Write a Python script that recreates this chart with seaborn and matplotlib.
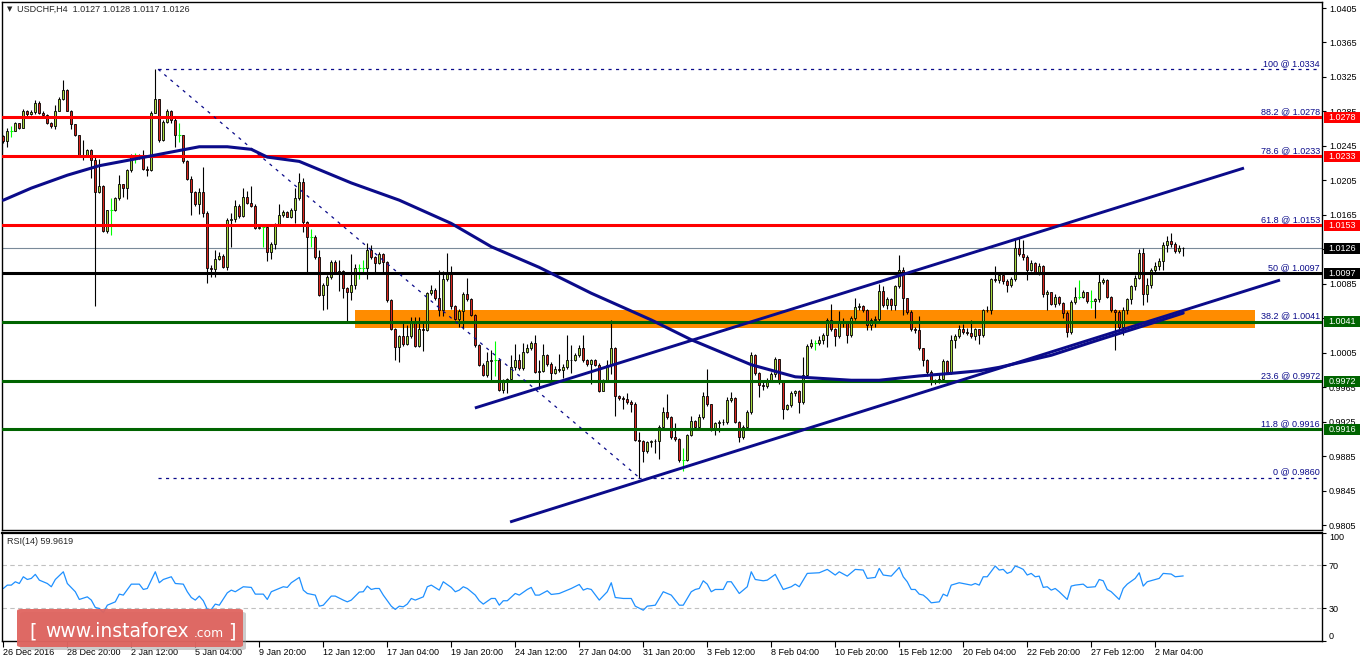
import numpy as np
import matplotlib
matplotlib.use("Agg")
import matplotlib.pyplot as plt
import matplotlib.transforms as mtrans
from matplotlib.patches import Rectangle, FancyBboxPatch
import seaborn as sns

# ---------------- data ----------------
title = "USDCHF,H4  1.0127 1.0128 1.0117 1.0126"
rsi_title = "RSI(14) 59.9619"

first_open = 1.0256
closes = [
    1.0251, 1.0262, 1.0262, 1.0271, 1.0266, 1.0286, 1.0282, 1.0284, 1.0295, 1.0283,
    1.0281, 1.0271, 1.0268, 1.0286, 1.0299, 1.0310, 1.0286, 1.0270, 1.0258, 1.0235,
    1.0233, 1.0240, 1.0229, 1.0192, 1.0198, 1.0146, 1.0171, 1.0171, 1.0184, 1.0201,
    1.0196, 1.0217, 1.0235, 1.0235, 1.0233, 1.0218, 1.0217, 1.0283, 1.0300, 1.0252,
    1.0273, 1.0286, 1.0275, 1.0258, 1.0258, 1.0227, 1.0206, 1.0192, 1.0177, 1.0191,
    1.0167, 1.0103, 1.0102, 1.0114, 1.0117, 1.0105, 1.0159, 1.0160, 1.0175, 1.0164,
    1.0186, 1.0179, 1.0175, 1.0150, 1.0151, 1.0151, 1.0122, 1.0131, 1.0153, 1.0165,
    1.0168, 1.0163, 1.0171, 1.0184, 1.0203,
    1.0157, 1.0139, 1.0139, 1.0116, 1.0072, 1.0083, 1.0093, 1.0110, 1.0099, 1.0100,
    1.0080, 1.0075, 1.0083, 1.0103, 1.0103, 1.0103, 1.0124, 1.0116, 1.0109, 1.0119,
    1.0110, 1.0066, 1.0033, 1.0012, 1.0024, 1.0015, 1.0024, 1.0042, 1.0013, 1.0032,
    1.0031, 1.0074, 1.0078, 1.0068, 1.0054, 1.0090, 1.0096, 1.0059, 1.0044, 1.0053,
    1.0073, 1.0067, 1.0049, 1.0014, 0.9991, 0.9979, 0.9995, 0.9997, 0.9997, 0.9962,
    0.9973, 0.9974, 0.9988, 0.9996, 0.9987, 1.0006, 1.0010, 1.0016, 0.9982, 0.9984,
    1.0002, 0.9992, 0.9981, 0.9986, 0.9985, 0.9988, 0.9996, 0.9997, 1.0002, 1.0010,
    0.9996, 0.9992,
    0.9997, 0.9991, 0.9961, 0.9973, 0.9991, 1.0011, 0.9955, 0.9952, 0.9951, 0.9948,
    0.9946, 0.9904, 0.9903, 0.9891, 0.9901, 0.9902, 0.9903, 0.9919, 0.9936, 0.9930,
    0.9907, 0.9905, 0.9880, 0.9880, 0.9909, 0.9926, 0.9919, 0.9930, 0.9955, 0.9945,
    0.9916, 0.9923, 0.9924, 0.9925, 0.9950, 0.9952, 0.9925, 0.9907, 0.9919, 0.9936,
    1.0002, 0.9981, 0.9967, 0.9966, 0.9973, 0.9980, 0.9998, 0.9971, 0.9940, 0.9944,
    0.9958, 0.9960, 0.9948, 0.9979, 1.0013, 1.0016, 1.0016, 1.0020, 1.0026, 1.0043,
    1.0032, 1.0024, 1.0041, 1.0040, 1.0025, 1.0045, 1.0058, 1.0059, 1.0055, 1.0037,
    1.0043, 1.0044, 1.0077,
    1.0060, 1.0067, 1.0060, 1.0082, 1.0101, 1.0068, 1.0052, 1.0032, 1.0031, 1.0010,
    0.9996, 0.9983, 0.9972, 0.9971, 0.9975, 0.9995, 0.9982, 1.0020, 1.0024, 1.0033,
    1.0029, 1.0028, 1.0024, 1.0032, 1.0025, 1.0054, 1.0055, 1.0090, 1.0089, 1.0095,
    1.0088, 1.0083, 1.0090, 1.0126, 1.0120, 1.0116, 1.0101, 1.0109, 1.0099, 1.0106,
    1.0073, 1.0075, 1.0062, 1.0070, 1.0063, 1.0051, 1.0029, 1.0064, 1.0070, 1.0070,
    1.0075, 1.0065, 1.0065, 1.0067, 1.0087, 1.0089, 1.0070, 1.0054, 1.0052, 1.0035,
    1.0055, 1.0067, 1.0082, 1.0092, 1.0121, 1.0073, 1.0083, 1.0101, 1.0106, 1.0111,
    1.0130, 1.0135, 1.0131, 1.0123, 1.0127, 1.0126,
]
highs = [
    1.0258, 1.0266, 1.0268, 1.0273, 1.0272, 1.0288, 1.0287, 1.0287, 1.0298, 1.0297,
    1.0285, 1.0282, 1.0273, 1.0293, 1.0302, 1.0322, 1.0311, 1.0287, 1.0270, 1.0258,
    1.0252, 1.0241, 1.0241, 1.0232, 1.0230, 1.0200, 1.0171, 1.0184, 1.0186, 1.0211,
    1.0201, 1.0218, 1.0236, 1.0237, 1.0236, 1.0240, 1.0222, 1.0285, 1.0334, 1.0300,
    1.0275, 1.0288, 1.0287, 1.0277, 1.0271, 1.0258, 1.0229, 1.0210, 1.0193, 1.0196,
    1.0221, 1.0169, 1.0107, 1.0124, 1.0122, 1.0119, 1.0161, 1.0167, 1.0182, 1.0177,
    1.0196, 1.0193, 1.0198, 1.0177, 1.0152, 1.0152, 1.0152, 1.0134, 1.0155, 1.0177,
    1.0171, 1.0169, 1.0173, 1.0196, 1.0214,
    1.0208, 1.0158, 1.0149, 1.0141, 1.0124, 1.0086, 1.0095, 1.0112, 1.0113, 1.0112,
    1.0101, 1.0081, 1.0120, 1.0108, 1.0108, 1.0113, 1.0132, 1.0130, 1.0117, 1.0122,
    1.0121, 1.0111, 1.0067, 1.0034, 1.0026, 1.0041, 1.0037, 1.0046, 1.0046, 1.0046,
    1.0042, 1.0075, 1.0083, 1.0080, 1.0101, 1.0100, 1.0121, 1.0106, 1.0060, 1.0056,
    1.0076, 1.0092, 1.0069, 1.0050, 1.0015, 0.9993, 1.0006, 1.0008, 1.0018, 0.9998,
    0.9975, 0.9976, 1.0002, 1.0015, 1.0003, 1.0016, 1.0015, 1.0018, 1.0025, 0.9996,
    1.0015, 1.0004, 0.9994, 0.9990, 1.0003, 0.9992, 1.0025, 1.0014, 1.0005, 1.0014,
    1.0026, 0.9998,
    0.9998, 0.9998, 0.9993, 0.9975, 0.9996, 1.0043, 1.0012, 0.9956, 0.9955, 0.9958,
    0.9950, 0.9948, 0.9913, 0.9904, 0.9903, 0.9904, 0.9905, 0.9921, 0.9942, 0.9957,
    0.9931, 0.9923, 0.9906, 0.9894, 0.9911, 0.9931, 0.9927, 0.9934, 0.9959, 0.9986,
    0.9946, 0.9925, 0.9927, 0.9928, 0.9953, 0.9959, 0.9953, 0.9926, 0.9921, 0.9938,
    1.0006, 1.0003, 0.9982, 0.9972, 0.9976, 0.9983, 1.0000, 0.9998, 0.9973, 0.9946,
    0.9961, 0.9962, 0.9962, 1.0000, 1.0015, 1.0021, 1.0020, 1.0024, 1.0028, 1.0045,
    1.0061, 1.0034, 1.0053, 1.0045, 1.0042, 1.0048, 1.0068, 1.0063, 1.0060, 1.0056,
    1.0045, 1.0047, 1.0085,
    1.0082, 1.0070, 1.0068, 1.0084, 1.0118, 1.0104, 1.0069, 1.0055, 1.0035, 1.0047,
    1.0011, 0.9998, 0.9985, 0.9975, 0.9980, 0.9998, 0.9997, 1.0026, 1.0027, 1.0037,
    1.0038, 1.0034, 1.0043, 1.0034, 1.0033, 1.0056, 1.0059, 1.0092, 1.0106, 1.0097,
    1.0095, 1.0090, 1.0093, 1.0138, 1.0138, 1.0136, 1.0118, 1.0112, 1.0110, 1.0109,
    1.0107, 1.0078, 1.0076, 1.0073, 1.0071, 1.0064, 1.0053, 1.0066, 1.0081, 1.0089,
    1.0078, 1.0076, 1.0078, 1.0069, 1.0098, 1.0092, 1.0090, 1.0071, 1.0056, 1.0055,
    1.0058, 1.0069, 1.0084, 1.0095, 1.0125, 1.0127, 1.0092, 1.0103, 1.0110, 1.0115,
    1.0133, 1.0140, 1.0144, 1.0133, 1.0130, 1.0128,
]
lows = [
    1.0248, 1.0244, 1.0255, 1.0262, 1.0265, 1.0266, 1.0280, 1.0281, 1.0282, 1.0282,
    1.0278, 1.0270, 1.0266, 1.0265, 1.0285, 1.0298, 1.0285, 1.0265, 1.0256, 1.0233,
    1.0229, 1.0233, 1.0208, 1.0059, 1.0190, 1.0145, 1.0144, 1.0142, 1.0170, 1.0182,
    1.0186, 1.0183, 1.0215, 1.0225, 1.0230, 1.0217, 1.0210, 1.0216, 1.0283, 1.0250,
    1.0251, 1.0271, 1.0272, 1.0244, 1.0250, 1.0225, 1.0205, 1.0165, 1.0175, 1.0166,
    1.0163, 1.0086, 1.0093, 1.0093, 1.0112, 1.0103, 1.0101, 1.0128, 1.0157, 1.0161,
    1.0163, 1.0177, 1.0174, 1.0148, 1.0148, 1.0128, 1.0111, 1.0114, 1.0125, 1.0152,
    1.0163, 1.0162, 1.0161, 1.0155, 1.0182,
    1.0145, 1.0099, 1.0128, 1.0114, 1.0071, 1.0054, 1.0056, 1.0090, 1.0097, 1.0077,
    1.0068, 1.0042, 1.0066, 1.0079, 1.0090, 1.0098, 1.0090, 1.0114, 1.0099, 1.0108,
    1.0099, 1.0064, 1.0031, 0.9996, 0.9994, 1.0013, 1.0014, 1.0022, 1.0012, 1.0012,
    1.0007, 1.0030, 1.0072, 1.0066, 1.0048, 1.0047, 1.0088, 1.0056, 1.0043, 1.0035,
    1.0033, 1.0065, 1.0047, 1.0012, 0.9989, 0.9978, 0.9977, 0.9973, 0.9978, 0.9961,
    0.9958, 0.9958, 0.9971, 0.9985, 0.9985, 0.9985, 1.0005, 1.0008, 0.9981, 0.9963,
    0.9982, 0.9990, 0.9973, 0.9980, 0.9983, 0.9976, 0.9986, 0.9981, 0.9995, 1.0000,
    0.9994, 0.9990,
    0.9969, 0.9989, 0.9959, 0.9960, 0.9972, 0.9980, 0.9932, 0.9950, 0.9940, 0.9946,
    0.9936, 0.9903, 0.9859, 0.9878, 0.9888, 0.9895, 0.9888, 0.9882, 0.9917, 0.9928,
    0.9905, 0.9903, 0.9878, 0.9868, 0.9879, 0.9908, 0.9917, 0.9918, 0.9928, 0.9943,
    0.9914, 0.9910, 0.9913, 0.9921, 0.9922, 0.9948, 0.9923, 0.9901, 0.9905, 0.9917,
    0.9934, 0.9979, 0.9954, 0.9962, 0.9964, 0.9971, 0.9977, 0.9969, 0.9928, 0.9938,
    0.9942, 0.9955, 0.9935, 0.9946, 0.9977, 1.0010, 1.0008, 1.0014, 1.0015, 1.0012,
    1.0030, 1.0013, 1.0022, 1.0035, 1.0016, 1.0023, 1.0043, 1.0054, 1.0052, 1.0031,
    1.0031, 1.0035, 1.0041,
    1.0058, 1.0056, 1.0055, 1.0055, 1.0080, 1.0049, 1.0050, 1.0030, 1.0028, 1.0008,
    0.9989, 0.9978, 0.9968, 0.9969, 0.9970, 0.9972, 0.9980, 0.9980, 1.0011, 1.0022,
    1.0027, 1.0026, 1.0022, 1.0020, 1.0015, 1.0023, 1.0052, 1.0050, 1.0087, 1.0086,
    1.0085, 1.0076, 1.0081, 1.0088, 1.0117, 1.0113, 1.0089, 1.0100, 1.0097, 1.0095,
    1.0070, 1.0055, 1.0060, 1.0058, 1.0060, 1.0045, 1.0023, 1.0027, 1.0062, 1.0067,
    1.0068, 1.0063, 1.0057, 1.0045, 1.0064, 1.0085, 1.0068, 1.0052, 1.0008, 1.0030,
    1.0025, 1.0050, 1.0062, 1.0078, 1.0090, 1.0060, 1.0064, 1.0080, 1.0098, 1.0101,
    1.0101, 1.0122, 1.0128, 1.0121, 1.0121, 1.0117,
]

# moving average, read at points along the curve (bar index, price)
ma_bars = [0, 7, 16, 24, 32, 41, 49, 56, 62, 66, 74, 87, 99, 112, 122, 134, 147, 162,
           172, 187, 198, 212, 219, 229, 237, 244, 249, 262, 274, 287, 295]
ma_vals = [1.0182, 1.0196, 1.0211, 1.0222, 1.0229, 1.0237, 1.0244, 1.0244, 1.0241,
           1.0232, 1.0227, 1.0202, 1.0182, 1.0155, 1.0128, 1.0104, 1.0074, 1.0043,
           1.0020, 0.9991, 0.9977, 0.9973, 0.9973, 0.9978, 0.9981, 0.9984, 0.9988,
           1.0002, 1.0020, 1.0039, 1.0051]

# RSI(14), read at its turning points (bar index, value)
rsi_bars = [0, 1, 2, 3, 4, 5, 6, 7, 8, 9, 11, 12, 13, 15, 16, 18, 19, 21, 22, 23, 24, 25,
            26, 28, 29, 30, 32, 34, 35, 36, 38, 39, 40, 42, 43, 45, 46, 47, 48, 49, 50, 51,
            52, 53, 54, 56, 57, 58, 60, 62, 63, 65, 66, 67, 70, 71, 72, 74, 75, 76, 78, 79,
            80, 82, 83, 85, 86, 87, 88, 89, 90, 91, 92, 93, 94, 95, 97, 98, 99, 100, 101,
            102, 103, 104, 105, 106, 107, 109, 110, 112,
            113, 114, 115, 116, 118, 119, 120, 122, 123, 124, 125, 126, 128, 129, 131, 132,
            133, 134, 136, 137, 139, 141, 142, 144, 145, 146, 147, 149, 151, 152, 153, 155,
            157, 158, 160, 161, 163, 165, 167, 168, 169, 170, 172, 173, 174, 175, 176, 177,
            178, 180, 181, 182, 184, 186, 187, 188, 190, 191, 193, 195, 197, 198, 199, 201,
            204, 206, 208, 209, 211, 213, 215, 216, 218, 219, 220, 222, 224,
            225, 226, 227, 228, 229, 230, 231, 232, 234, 235, 236, 237, 239, 242, 243, 244,
            245, 246, 248, 249, 250, 251, 252, 253, 254, 255, 256, 257, 258, 259, 260, 261,
            262, 263, 264, 266, 267, 268, 270, 271, 273, 274, 275, 276, 277, 279, 280, 281,
            283, 284, 285, 286, 288, 289, 290, 292, 293, 295]
rsi_vals = [48.4, 51.5, 51.5, 54.6, 53.0, 59.2, 56.7, 57.7, 61.4, 56.1, 53.0, 50.0, 56.7,
            63.8, 53.0, 45.4, 38.3, 40.7, 37.7, 30.9, 30.0, 26.0, 33.0, 36.1, 43.2, 42.3,
            52.4, 52.4, 47.5, 48.4, 63.8, 53.7, 56.7, 59.2, 53.0, 52.4, 45.4, 40.1, 37.7,
            41.4, 37.1, 29.1, 29.1, 34.0, 33.0, 44.4, 46.9, 45.4, 50.0, 49.4, 43.2, 43.2,
            38.3, 45.4, 50.0, 49.4, 53.7, 58.6, 46.9, 43.8, 42.3, 32.1, 33.0, 41.4, 41.4,
            37.7, 36.1, 37.7, 41.4, 45.1, 45.4, 50.6, 47.5, 48.4, 48.4, 42.3, 32.1, 29.1,
            32.1, 31.5, 34.0, 39.2, 37.7, 39.2, 40.7, 50.0, 51.5, 46.9, 54.6, 49.4,
            45.4, 46.9, 50.0, 48.4, 42.3, 37.1, 34.0, 39.2, 39.2, 33.0, 37.1, 37.1, 43.8,
            42.3, 47.5, 49.4, 42.3, 42.3, 46.3, 42.9, 43.8, 46.9, 48.4, 52.1, 46.9, 48.4,
            47.5, 37.7, 45.4, 53.7, 40.1, 39.2, 39.2, 32.1, 28.4, 32.1, 33.0, 45.4, 42.3,
            37.7, 33.0, 33.0, 45.4, 47.5, 48.4, 55.5, 52.4, 45.4, 47.5, 47.5, 54.6, 54.6,
            43.8, 50.0, 63.8, 56.7, 55.5, 56.1, 61.4, 47.5, 50.0, 52.4, 50.0, 62.3, 62.9,
            66.0, 60.8, 63.8, 59.8, 66.0, 65.4, 57.7, 58.6, 66.9, 60.8, 59.8, 67.8,
            59.2, 54.6, 47.5, 47.5, 43.2, 42.3, 39.2, 35.2, 36.1, 43.2, 41.4, 51.5, 53.7,
            51.5, 53.0, 51.5, 59.2, 59.2, 69.1, 65.4, 66.0, 62.3, 63.8, 69.1, 67.8, 66.0,
            60.8, 62.3, 59.2, 59.8, 49.4, 50.0, 46.9, 48.4, 45.4, 38.3, 50.6, 51.5, 52.4,
            49.4, 50.0, 56.7, 55.5, 47.5, 45.4, 38.3, 48.4, 52.4, 57.7, 62.9, 50.6, 54.6,
            56.7, 57.7, 62.3, 61.7, 59.2, 59.96]

# Fibonacci retracement from the 1.0334 high to the 0.9860 low
fib_labels = ["100", "88.2", "78.6", "61.8", "50", "38.2", "23.6", "11.8", "0"]
fib_prices = [1.0334, 1.0278, 1.0233, 1.0153, 1.0097, 1.0041, 0.9972, 0.9916, 0.9860]
fib_high_bar, fib_low_bar = 38.7, 159

# drawn levels (solid lines with price boxes)
level_prices = [1.0278, 1.0233, 1.0153, 1.0097, 1.0041, 0.9972, 0.9916]
last_price = 1.0126

# channel trend lines (bar index, price)
upper_bars, upper_vals = [117.9, 310.2], [0.99408, 1.02193]
lower_bars, lower_vals = [126.7, 319.2], [0.98085, 1.00893]

# orange zone
zone_bars = [87.9, 312.9]
zone_prices = [1.0034, 1.00545]

price_ticks = [1.0405, 1.0365, 1.0325, 1.0285, 1.0245, 1.0205, 1.0165, 1.0125,
               1.0085, 1.0045, 1.0005, 0.9965, 0.9925, 0.9885, 0.9845, 0.9805]
rsi_ticks = [100, 70, 30, 0]
time_ticks = [0, 16, 32, 48, 64, 80, 96, 112, 128, 144, 160, 176, 192, 208, 224, 240,
              256, 272, 288]
time_labels = ["26 Dec 2016", "28 Dec 20:00", "2 Jan 12:00", "5 Jan 04:00", "9 Jan 20:00",
               "12 Jan 12:00", "17 Jan 04:00", "19 Jan 20:00", "24 Jan 12:00",
               "27 Jan 04:00", "31 Jan 20:00", "3 Feb 12:00", "8 Feb 04:00",
               "10 Feb 20:00", "15 Feb 12:00", "20 Feb 04:00", "22 Feb 20:00",
               "27 Feb 12:00", "2 Mar 04:00"]

assert len(closes) == len(highs) == len(lows)
assert len(rsi_bars) == len(rsi_vals) and len(ma_bars) == len(ma_vals)

# ---------------- styling ----------------
sns.set_style("white")
plt.rcParams["font.family"] = ["Liberation Sans", "DejaVu Sans"]
plt.rcParams["font.size"] = 6.5

navy = "#0b0b8a"
bull, bear = "#a6d83e", "#d8251c"
level_colors = ["#ff0000", "#ff0000", "#ff0000", "#000000", "#006400", "#006400", "#006400"]

fig = plt.figure(figsize=(13.62, 6.61), dpi=100)
ax = fig.add_axes([2 / 1362, 131 / 661, 1320 / 1362, 528 / 661])
ax2 = fig.add_axes([2 / 1362, 20 / 661, 1320 / 1362, 108.5 / 661])

# ---------------- candles ----------------
n = len(closes)
x = np.arange(n)
c = np.array(closes)
o = np.concatenate([[first_open], c[:-1]])
h = np.maximum(np.array(highs), np.maximum(o, c))
l = np.minimum(np.array(lows), np.minimum(o, c))
doji = np.isclose(o, c, atol=1e-7)
up = (c > o) & ~doji
dn = (c < o) & ~doji

ax.vlines(x[~doji], l[~doji], h[~doji], color="black", lw=0.8, zorder=3)
ax.vlines(x[doji], l[doji], h[doji], color="#00ff00", lw=0.8, zorder=3)
ax.hlines(c[doji], x[doji] - 0.4, x[doji] + 0.4, color="#00ff00", lw=0.8, zorder=3)
body = np.maximum(np.abs(c - o), 0.00004)
ax.bar(x[up], body[up], bottom=o[up], width=0.55, color=bull, edgecolor="black",
       linewidth=0.6, zorder=4)
ax.bar(x[dn], body[dn], bottom=c[dn], width=0.55, color=bear, edgecolor="black",
       linewidth=0.6, zorder=4)

# ---------------- objects ----------------
ax.add_patch(Rectangle((zone_bars[0], zone_prices[0]), zone_bars[1] - zone_bars[0],
                       zone_prices[1] - zone_prices[0], color="#ff8c00", lw=0, zorder=1))
ax.axhline(last_price, color="#7a8a99", lw=0.8, zorder=2)

for p, col in zip(level_prices, level_colors):
    ax.axhline(p, color=col, lw=2.2, zorder=5)

ax.hlines([fib_prices[0], fib_prices[-1]], fib_high_bar, 328.7, colors=navy,
          linestyles=(0, (2.5, 3.5)), lw=0.9, zorder=5)
ax.plot([fib_high_bar, fib_low_bar], [fib_prices[0], fib_prices[-1]], color=navy,
        ls=(0, (2.5, 4)), lw=0.9, zorder=5)

blend = mtrans.blended_transform_factory(ax.transAxes, ax.transData)
for lab, p in zip(fib_labels, fib_prices):
    ax.text(0.9985, p + 0.00012, f"{lab} @ {p:.4f}", transform=blend, ha="right",
            va="bottom", color=navy, fontsize=6.5, zorder=7)

ax.plot(upper_bars, upper_vals, color=navy, lw=2.1, zorder=6, solid_capstyle="butt")
ax.plot(lower_bars, lower_vals, color=navy, lw=2.1, zorder=6, solid_capstyle="butt")
sns.lineplot(x=ma_bars, y=ma_vals, ax=ax, color=navy, lw=2.2, zorder=6,
             estimator=None, sort=False)

# ---------------- main axis ----------------
ax.set_xlim(-0.33, 329.7)
ax.set_ylim(0.97992, 1.04120)
ax.set_xticks([])
ax.set_xlabel("")
ax.set_ylabel("")
ax.yaxis.tick_right()
ax.set_yticks(price_ticks)
ax.set_yticklabels([f"{p:.4f}" for p in price_ticks])
ax.tick_params(axis="y", right=True, length=3, width=0.8, pad=2, labelsize=6.5,
               colors="black")
for s in ax.spines.values():
    s.set_color("black")
    s.set_linewidth(1.0)

box_cols = level_colors[:3] + ["#000000"] + level_colors[3:]
box_prices = level_prices[:3] + [last_price] + level_prices[3:]
for p, col in zip(box_prices, box_cols):
    ax.add_patch(Rectangle((1.0015, p - 0.00064), 0.0273, 0.00128, transform=blend,
                           color=col, lw=0, clip_on=False, zorder=9))
    ax.text(1.0152, p, f"{p:.4f}", transform=blend, ha="center", va="center",
            color="white", fontsize=6.5, zorder=10, clip_on=False)

ax.text(0.0035, 0.993, "\u25bc", transform=ax.transAxes, ha="left", va="top",
        fontsize=5, family=["DejaVu Sans"])
ax.text(0.0115, 0.994, title, transform=ax.transAxes, ha="left", va="top", fontsize=6.5)

# ---------------- RSI ----------------
ax2.axhline(70, color="#c0c0c0", ls=(0, (4, 3)), lw=0.8)
ax2.axhline(30, color="#c0c0c0", ls=(0, (4, 3)), lw=0.8)
sns.lineplot(x=rsi_bars, y=rsi_vals, ax=ax2, color="#1e90ff", lw=0.9,
             estimator=None, sort=False)
ax2.set_xlim(-0.33, 329.7)
ax2.set_ylim(0, 100)
ax2.set_xlabel("")
ax2.set_ylabel("")
ax2.yaxis.tick_right()
ax2.set_yticks(rsi_ticks)
ax2.set_yticklabels([str(t) for t in rsi_ticks])
for lab, t in zip(ax2.get_yticklabels(), rsi_ticks):
    if t == 100:
        lab.set_va("top")
    elif t == 0:
        lab.set_va("bottom")
ax2.set_xticks(time_ticks)
ax2.set_xticklabels(time_labels, ha="left")
ax2.tick_params(axis="x", bottom=True, length=4, width=0.8, pad=1, labelsize=6.5,
                colors="black")
ax2.tick_params(axis="y", right=True, length=3, width=0.8, pad=2, labelsize=6.5,
                colors="black")
for s in ax2.spines.values():
    s.set_color("black")
    s.set_linewidth(1.0)
ax2.spines["top"].set_linewidth(1.6)
ax2.text(0.004, 0.96, rsi_title, transform=ax2.transAxes, ha="left", va="top",
         fontsize=6.5)

# ---------------- watermark ----------------
fig.patches.append(FancyBboxPatch((20 / 1362, 11 / 661), 226 / 1362, 38 / 661,
                                  boxstyle="round,pad=0,rounding_size=0.003",
                                  transform=fig.transFigure, fc="#9a9a9a", ec="none",
                                  alpha=0.5, zorder=5))
fig.patches.append(FancyBboxPatch((17 / 1362, 14 / 661), 226 / 1362, 38 / 661,
                                  boxstyle="round,pad=0,rounding_size=0.003",
                                  transform=fig.transFigure, fc="#e0645f", ec="none",
                                  alpha=0.95, zorder=6))
wm_y = 24 / 661
fig.text(29 / 1362, wm_y, "[", color="white", fontsize=14, family="DejaVu Sans",
         va="baseline", zorder=7)
fig.text(45 / 1362, wm_y, "www.instaforex", color="white", fontsize=13.5,
         family="DejaVu Sans", va="baseline", zorder=7)
fig.text(194 / 1362, wm_y, ".com", color="white", fontsize=8.8, family="DejaVu Sans",
         va="baseline", zorder=7)
fig.text(228 / 1362, wm_y, "]", color="white", fontsize=14, family="DejaVu Sans",
         va="baseline", zorder=7)

fig.savefig("out.png", dpi=100, facecolor="white")
